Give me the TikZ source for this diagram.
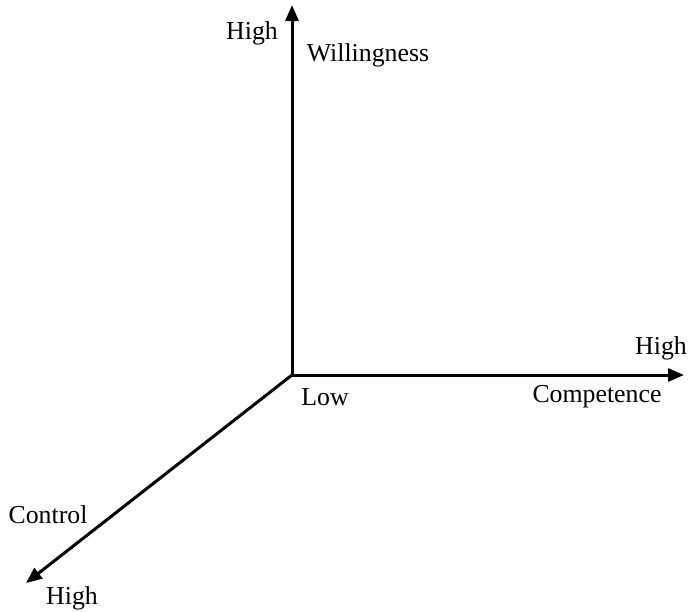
\documentclass[tikz,border=0pt]{standalone}
\usepackage{fontspec}
\setmainfont{Liberation Serif}
\usetikzlibrary{arrows.meta}

\begin{document}
\begin{tikzpicture}[x=0.5pt,y=-0.5pt,
    axis/.style={line width=1.5pt,-{Triangle[length=8pt,width=6.5pt]}},
    lbl/.style={font=\fontsize{12.9}{15}\selectfont,inner sep=0pt}]
  \useasboundingbox (0,0) rectangle (690,611);
  \coordinate (o) at (292,375);
  \coordinate (wtip) at (292,5);
  \coordinate (ctip) at (684,375);
  \coordinate (ktip) at (26,583);
  \draw[axis] (o) -- (wtip);
  \draw[axis] (o) -- (ctip);
  \draw[axis] (o) -- (ktip);
  \node[lbl] (whigh) at (252,33) {High};
  \node[lbl] (will) at (368,55) {Willingness};
  \node[lbl] (chigh) at (661,348) {High};
  \node[lbl] (low) at (325,397) {Low};
  \node[lbl] (comp) at (597,397) {Competence};
  \node[lbl] (ctrl) at (48,515) {Control};
  \node[lbl] (khigh) at (72,598) {High};
\end{tikzpicture}
\end{document}
